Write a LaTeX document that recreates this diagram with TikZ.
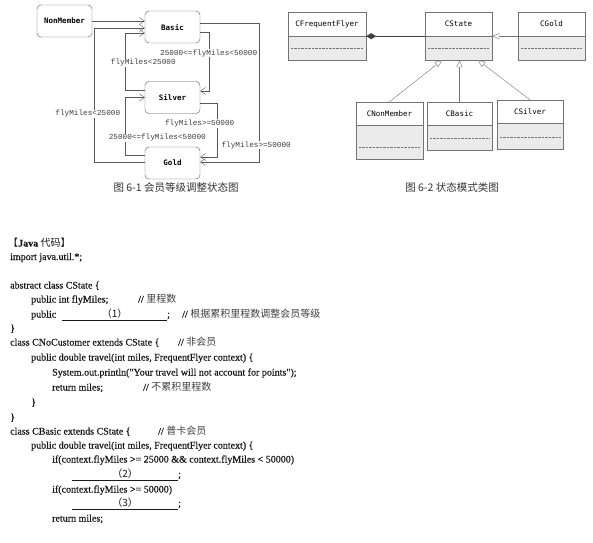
\documentclass[tikz,border=0pt]{standalone}
\usepackage{fontspec}
\setmainfont{Liberation Serif}
\newfontfamily\codefont{Liberation Serif}[FakeBold=0.6]
\newfontfamily\cjkfont{Noto Sans CJK SC}
\newfontfamily\lblfont{Liberation Mono}
\newfontfamily\boxfont{DejaVu Sans Mono}
\usepackage{tikz}
\usetikzlibrary{arrows.meta}
\tikzset{
    state/.style={rectangle,rounded corners=4pt,draw=black!65,minimum width=55pt,minimum height=32pt,inner sep=0pt,font=\boxfont\bfseries\fontsize{7.5}{9}\selectfont},
    trans/.style={draw=black!65,-{Straight Barb[length=5pt,width=7pt]}},
    edgelabel/.style={rectangle,fill=white,inner sep=0.5pt,font=\lblfont\fontsize{7.7}{9}\selectfont,text=black!75},
    classbody/.style={rectangle,draw=black!55,fill=black!8,inner sep=0pt},
    classname/.style={rectangle,draw=black!55,fill=white,anchor=north,inner sep=0pt,font=\boxfont\fontsize{7.5}{9}\selectfont},
    divider/.style={draw=black!55,densely dotted,shorten <=3pt,shorten >=3pt},
    compose/.style={draw=black!75,{Diamond[length=10pt,width=6pt]}-},
    inherit/.style={draw=black!55,-{Triangle[length=7pt,width=6pt,fill=white]}},
    figcap/.style={font=\cjkfont\fontsize{10.5}{12}\selectfont,text=black!80},
    codeline/.style={anchor=base west,inner sep=0pt,font=\codefont\fontsize{10}{12}\selectfont,text=black!90},
}
\newcommand{\zh}[1]{{\cjkfont\color{black!75}#1}}

\begin{document}
\begin{tikzpicture}[x=1pt,y=-1pt]
	\useasboundingbox (0,0) rectangle (593,542);

	\node[state] (nonmember) at (64.5,21) {NonMember};
	\node[state] (basic) at (172.5,27) {Basic};
	\node[state] (silver) at (172.5,97.5) {Silver};
	\node[state] (gold) at (172.5,163) {Gold};

	\draw[trans] (nonmember.east) -- (nonmember.east -| basic.west);
	\draw[trans] ([yshift=1pt]gold.west) -- ++(-51,0) |- node[edgelabel,pos=0.18,xshift=-6pt] {flyMiles<25000} ([yshift=-1pt]basic.west);
	\draw[trans] ([yshift=7.5pt]silver.west) -- ++(-20,0) |- node[edgelabel,pos=0.24,xshift=18.5pt] {flyMiles<25000} ([yshift=-6pt]basic.west);
	\draw[trans] ([yshift=8pt]gold.west) -- ++(-20,0) |- node[edgelabel,pos=0.15,xshift=32.5pt] {25000<=flyMiles<50000} (silver.west);
	\draw[trans] ([yshift=-5pt]basic.east) -- ++(9,0) |- node[edgelabel,pos=0.18,xshift=-0.5pt] {25000<=flyMiles<50000} ([yshift=6.5pt]silver.east);
	\draw[trans] ([yshift=4pt]basic.east) -- ++(59,0) |- node[edgelabel,pos=0.44,xshift=-3pt] {flyMiles>=50000} ([yshift=1pt]gold.east);
	\draw[trans] ([yshift=-5.5pt]silver.east) -- ++(17,0) |- node[edgelabel,pos=0.19,xshift=-17.5pt] {flyMiles>=50000} ([yshift=6pt]gold.east);

	\node[figcap] (cap1) at (176,187) {图 6-1 会员等级调整状态图};

	\node[classbody,minimum width=78pt,minimum height=48pt] (cff) at (327,36) {};
	\node[classname,minimum width=78pt,minimum height=24pt] (cffname) at (cff.north) {CFrequentFlyer};
	\node[classbody,minimum width=67pt,minimum height=48pt] (cstate) at (458.5,36) {};
	\node[classname,minimum width=67pt,minimum height=24pt] (cstatename) at (cstate.north) {CState};
	\node[classbody,minimum width=67pt,minimum height=48pt] (cgold) at (551.5,36) {};
	\node[classname,minimum width=67pt,minimum height=24pt] (cgoldname) at (cgold.north) {CGold};
	\node[classbody,minimum width=67pt,minimum height=57pt] (cnonmember) at (389.5,130.5) {};
	\node[classname,minimum width=67pt,minimum height=23pt] (cnonmembername) at (cnonmember.north) {CNonMember};
	\node[classbody,minimum width=65pt,minimum height=48pt] (cbasic) at (459.5,126) {};
	\node[classname,minimum width=65pt,minimum height=23pt] (cbasicname) at (cbasic.north) {CBasic};
	\node[classbody,minimum width=66pt,minimum height=49pt] (csilver) at (530,124.5) {};
	\node[classname,minimum width=66pt,minimum height=23pt] (csilvername) at (csilver.north) {CSilver};

	\draw[divider] ([yshift=12pt]cff.south west) -- ([yshift=12pt]cff.south east);
	\draw[divider] ([yshift=12pt]cstate.south west) -- ([yshift=12pt]cstate.south east);
	\draw[divider] ([yshift=12pt]cgold.south west) -- ([yshift=12pt]cgold.south east);
	\draw[divider] ([yshift=12pt]cnonmember.south west) -- ([yshift=12pt]cnonmember.south east);
	\draw[divider] ([yshift=12pt]cbasic.south west) -- ([yshift=12pt]cbasic.south east);
	\draw[divider] ([yshift=12pt]csilver.south west) -- ([yshift=12pt]csilver.south east);

	\draw[compose] (cffname.south east) -- (cstatename.south west);
	\draw[inherit] (cgoldname.south west) -- (cstatename.south east);
	\draw[inherit] (cnonmembername.north) -- ([xshift=-16.5pt]cstate.south);
	\draw[inherit] (cbasicname.north) -- (cbasicname.north |- cstate.south);
	\draw[inherit] (csilvername.north) -- ([xshift=19.5pt]cstate.south);

	\node[figcap] (cap2) at (452,187) {图 6-2 状态模式类图};

	\node[codeline] (head) at (8,246.5) {{\cjkfont 【}\textbf{Java} {\cjkfont 代码】}};
	\node[codeline] (line1) at (10,260) {import java.util.*;};
	\node[codeline] (line2) at (10,288.5) {abstract class CState \{};
	\node[codeline] (line3) at (31,302.5) {public int flyMiles;};
	\node[codeline] (note3) at (138,302.5) {// \zh{里程数}};
	\node[codeline] (line4) at (31,317.5) {public\hspace{6pt}\underline{\hbox to 105pt{\hfil{\cjkfont （1）}\hfil}};};
	\node[codeline] (note4) at (182,317.5) {// \zh{根据累积里程数调整会员等级}};
	\node[codeline] (line5) at (10,331.5) {\}};
	\node[codeline] (line6) at (10,345.5) {class CNoCustomer extends CState \{};
	\node[codeline] (note6) at (178,345.5) {// \zh{非会员}};
	\node[codeline] (line7) at (31,360.5) {public double travel(int miles, FrequentFlyer context) \{};
	\node[codeline] (line8) at (52,375.5) {System.out.println("Your travel will not account for points");};
	\node[codeline] (line9) at (52,390.5) {return miles;};
	\node[codeline] (note9) at (143,390.5) {// \zh{不累积里程数}};
	\node[codeline] (line10) at (31,405.5) {\}};
	\node[codeline] (line11) at (10,420.5) {\}};
	\node[codeline] (line12) at (10,434.5) {class CBasic extends CState \{};
	\node[codeline] (note12) at (158,434.5) {// \zh{普卡会员}};
	\node[codeline] (line13) at (31,448.5) {public double travel(int miles, FrequentFlyer context) \{};
	\node[codeline] (line14) at (52,462.5) {if(context.flyMiles >= 25000 \&\& context.flyMiles < 50000)};
	\node[codeline] (line15) at (72,477.5) {\underline{\hbox to 106pt{\hfil{\cjkfont （2）}\hfil}};};
	\node[codeline] (line16) at (52,492.5) {if(context.flyMiles >= 50000)};
	\node[codeline] (line17) at (72,506.5) {\underline{\hbox to 106pt{\hfil{\cjkfont （3）}\hfil}};};
	\node[codeline] (line18) at (52,521.5) {return miles;};
\end{tikzpicture}
\end{document}
